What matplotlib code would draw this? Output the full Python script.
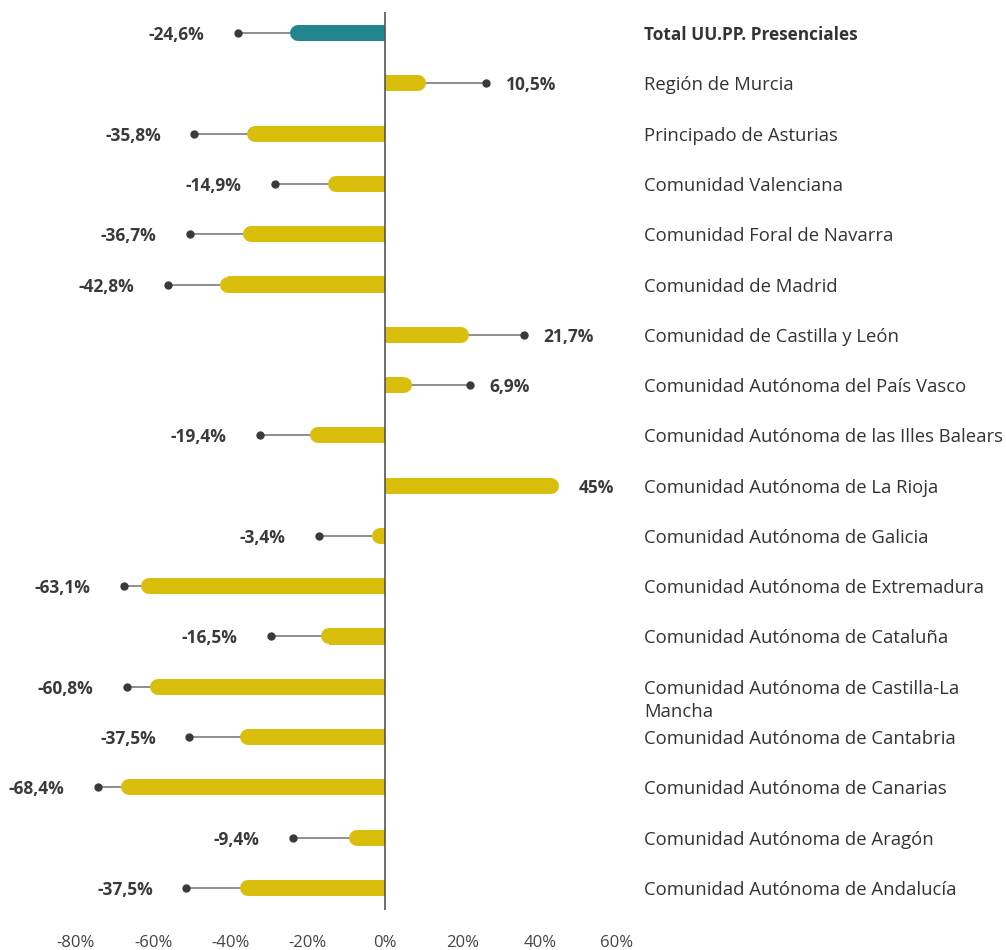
import matplotlib.pyplot as plt
import matplotlib.transforms as mtransforms
from matplotlib.patches import Rectangle

# data (top to bottom)
regions = [
    "Total UU.PP. Presenciales",
    "Región de Murcia",
    "Principado de Asturias",
    "Comunidad Valenciana",
    "Comunidad Foral de Navarra",
    "Comunidad de Madrid",
    "Comunidad de Castilla y León",
    "Comunidad Autónoma del País Vasco",
    "Comunidad Autónoma de las Illes Balears",
    "Comunidad Autónoma de La Rioja",
    "Comunidad Autónoma de Galicia",
    "Comunidad Autónoma de Extremadura",
    "Comunidad Autónoma de Cataluña",
    "Comunidad Autónoma de Castilla-La\nMancha",
    "Comunidad Autónoma de Cantabria",
    "Comunidad Autónoma de Canarias",
    "Comunidad Autónoma de Aragón",
    "Comunidad Autónoma de Andalucía",
]
change = [-24.6, 10.5, -35.8, -14.9, -36.7, -42.8, 21.7, 6.9, -19.4, 45.0,
          -3.4, -63.1, -16.5, -60.8, -37.5, -68.4, -9.4, -37.5]
# where the label leader line ends (None = label sits at the bar end)
label_anchor = [-38.1, 26.1, -49.4, -28.5, -50.5, -56.2, 36.0, 22.0, -32.4, None,
                -17.1, -67.6, -29.5, -66.8, -50.7, -74.3, -23.8, -51.5]
xticks = [-80, -60, -40, -20, 0, 20, 40, 60]

teal = "#23868f"
yellow = "#d9be0b"
dark = "#3a3a3a"
plt.rcParams['font.family'] = ['Open Sans', 'DejaVu Sans']

fig = plt.figure(figsize=(10.06, 9.5), dpi=100)
ax = fig.add_axes([76 / 1006, 1 - 910 / 950, (617 - 76) / 1006, (910 - 12) / 950])

n = len(regions)
bar_lw = 11.5  # points, ~16 px
r = 2.07       # cap radius in data units (~8 px)
trans = mtransforms.blended_transform_factory(ax.transAxes, ax.transData)

for i, (name, v, anc) in enumerate(zip(regions, change, label_anchor)):
    col = teal if i == 0 else yellow
    s = 1 if v >= 0 else -1
    inner = v - s * r
    # square part from zero
    ax.barh(i, inner, height=0.32, color=col, linewidth=0, zorder=2)
    # rounded outer end, clipped so it never crosses zero
    cap, = ax.plot([inner - s * r, inner], [i, i], color=col, lw=bar_lw,
                   solid_capstyle='round', zorder=2)
    clip = Rectangle((min(0, v), i - 0.5), abs(v), 1.0, transform=ax.transData)
    cap.set_clip_path(clip)

    txt = f"{v:.1f}".replace(".", ",").replace(",0", "") + "%"
    if anc is not None:
        ax.plot([v, anc], [i, i], color="#707070", lw=1.1, zorder=1)
        ax.plot(anc, i, 'o', color=dark, ms=5, zorder=3)
        x0 = anc
    else:
        x0 = v
    if s > 0:
        ax.annotate(txt, (x0, i), xytext=(14, 0), textcoords='offset points',
                    ha='left', va='center_baseline', fontsize=12.5,
                    fontweight='bold', color=dark, annotation_clip=False)
    else:
        ax.annotate(txt, (x0, i), xytext=(-24, 0), textcoords='offset points',
                    ha='right', va='center_baseline', fontsize=12.5,
                    fontweight='bold', color=dark, annotation_clip=False)

    # category label on the right
    for k, line in enumerate(name.split("\n")):
        ax.annotate(line, (1.05, i), xycoords=trans, xytext=(0, -17 * k),
                    textcoords='offset points', ha='left', va='center_baseline',
                    fontsize=12.4 if i == 0 else 13.3, color="#333333",
                    fontweight='bold' if i == 0 else 'normal',
                    annotation_clip=False)

ax.axvline(0, color="#555555", lw=1.2, zorder=4)
ax.set_xlim(-80, 60)
ax.set_ylim(n - 1 + 0.44, -0.42)
ax.set_xticks(xticks)
ax.set_xticklabels([f"{t}%" for t in xticks], fontsize=12, color="#444444")
ax.tick_params(axis='x', length=0, pad=18)
ax.set_yticks([])
for sp in ax.spines.values():
    sp.set_visible(False)

fig.savefig("out.png", dpi=100)
